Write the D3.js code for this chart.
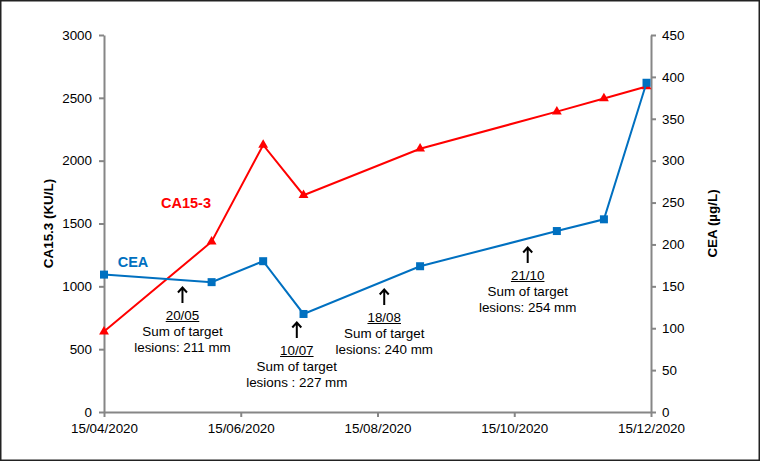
<!DOCTYPE html>
<html>
<head>
<meta charset="utf-8">
<script src="https://cdn.jsdelivr.net/npm/d3@7"></script>
<style>
  body { margin: 0; background: #fff; }
  svg { display: block; font-family: "Liberation Sans", Arial, sans-serif; }
</style>
</head>
<body>
<svg width="761" height="462"></svg>
<script>
// measurement dates (shared by both markers)
const dates = ["2020-04-15", "2020-06-02", "2020-06-25", "2020-07-13", "2020-09-03", "2020-11-03", "2020-11-24", "2020-12-13"];
const ca153 = [640, 1355, 2125, 1725, 2095, 2390, 2495, 2590];   // KU/L, left axis
const cea = [164, 155, 180, 117, 174, 216, 230, 393];             // µg/L, right axis

const leftTicks = [0, 500, 1000, 1500, 2000, 2500, 3000];
const rightTicks = [0, 50, 100, 150, 200, 250, 300, 350, 400, 450];
const xTicks = ["2020-04-15", "2020-06-15", "2020-08-15", "2020-10-15", "2020-12-15"];

// imaging notes
const noteDates = ["2020-05-20", "2020-07-10", "2020-08-18", "2020-10-21"];
const noteLabels = ["20/05", "10/07", "18/08", "21/10"];
const noteLines = ["lesions: 211 mm", "lesions : 227 mm", "lesions: 240 mm", "lesions: 254 mm"];

const width = 761, height = 462;
const margin = {top: 35, right: 110, bottom: 50, left: 104};
const noteTipY = [287, 322, 289, 247];

const parse = d3.utcParse("%Y-%m-%d");
const fmt = d3.utcFormat("%d/%m/%Y");
const axisColor = "#868686";
const red = "#ff0000", blue = "#0070c0";

const svg = d3.select("svg");

svg.append("rect")
  .attr("x", 0.75).attr("y", 0.75)
  .attr("width", width - 2.5).attr("height", height - 2.5)
  .attr("fill", "#fff").attr("stroke", "#222").attr("stroke-width", 1.5);

const x = d3.scaleUtc()
  .domain([parse(xTicks[0]), parse(xTicks[xTicks.length - 1])])
  .range([margin.left, width - margin.right]);
const y = d3.scaleLinear().domain([0, 3000]).range([height - margin.bottom, margin.top]);
const y2 = d3.scaleLinear().domain([0, 450]).range([height - margin.bottom, margin.top]);

function styleAxis(g) {
  g.select(".domain").attr("stroke", axisColor).attr("stroke-width", 2);
  g.selectAll(".tick line").attr("stroke", axisColor).attr("stroke-width", 2);
  g.selectAll(".tick text").attr("fill", "#000").attr("font-size", 13.4)
    .attr("font-family", "'Liberation Sans', Arial, sans-serif");
}

// x axis
svg.append("g")
  .attr("transform", `translate(0,${y(0)})`)
  .call(d3.axisBottom(x).tickValues(xTicks.map(parse)).tickFormat(fmt).tickSize(5).tickSizeOuter(0).tickPadding(6))
  .call(styleAxis);

// left axis
svg.append("g")
  .attr("transform", `translate(${margin.left},0)`)
  .call(d3.axisLeft(y).tickValues(leftTicks).tickFormat(d3.format("d")).tickSize(5).tickSizeOuter(0).tickPadding(7))
  .call(styleAxis);

// right axis
svg.append("g")
  .attr("transform", `translate(${width - margin.right},0)`)
  .call(d3.axisRight(y2).tickValues(rightTicks).tickFormat(d3.format("d")).tickSize(5).tickSizeOuter(0).tickPadding(6))
  .call(styleAxis);

// axis titles
svg.append("text")
  .attr("transform", `translate(48,${(y(0) + y(3000)) / 2}) rotate(-90)`)
  .attr("text-anchor", "middle").attr("dy", "0.35em")
  .attr("font-size", 13.4).attr("font-weight", "bold")
  .text("CA15.3 (KU/L)");

svg.append("text")
  .attr("transform", `translate(712,${(y(0) + y(3000)) / 2}) rotate(-90)`)
  .attr("text-anchor", "middle").attr("dy", "0.35em")
  .attr("font-size", 13.4).attr("font-weight", "bold")
  .text("CEA (µg/L)");

// series
const caPts = dates.map((d, i) => [x(parse(d)), y(ca153[i])]);
const ceaPts = dates.map((d, i) => [x(parse(d)), y2(cea[i])]);
const line = d3.line();

svg.append("path").attr("d", line(caPts))
  .attr("fill", "none").attr("stroke", red).attr("stroke-width", 2);
svg.selectAll(".tri").data(caPts).enter().append("path")
  .attr("class", "tri")
  .attr("transform", d => `translate(${d[0]},${d[1]})`)
  .attr("d", d3.symbol(d3.symbolTriangle, 42))
  .attr("fill", red);

svg.append("path").attr("d", line(ceaPts))
  .attr("fill", "none").attr("stroke", blue).attr("stroke-width", 2);
svg.selectAll(".sq").data(ceaPts).enter().append("rect")
  .attr("class", "sq")
  .attr("x", d => d[0] - 4).attr("y", d => d[1] - 4)
  .attr("width", 8).attr("height", 8)
  .attr("fill", blue);

// series labels
svg.append("text").attr("x", 186).attr("y", 208)
  .attr("text-anchor", "middle").attr("font-size", 14.5).attr("font-weight", "bold")
  .attr("fill", red).text("CA15-3");
svg.append("text").attr("x", 133).attr("y", 267)
  .attr("text-anchor", "middle").attr("font-size", 14.5).attr("font-weight", "bold")
  .attr("fill", blue).text("CEA");

// notes with arrows
noteDates.forEach((d, i) => {
  const nx = x(parse(d));
  const tip = noteTipY[i];
  const g = svg.append("g");
  g.append("path")
    .attr("d", `M${nx},${tip + 16}L${nx},${tip + 1}M${nx - 4.5},${tip + 5.5}L${nx},${tip + 0.5}L${nx + 4.5},${tip + 5.5}`)
    .attr("fill", "none").attr("stroke", "#000").attr("stroke-width", 2);
  const lbl = g.append("text").attr("x", nx).attr("y", tip + 28).attr("dy", "0.35em")
    .attr("text-anchor", "middle").attr("font-size", 13.4).text(noteLabels[i]);
  const w = lbl.node().getComputedTextLength();
  g.append("line")
    .attr("x1", nx - w / 2).attr("x2", nx + w / 2)
    .attr("y1", tip + 34.5).attr("y2", tip + 34.5)
    .attr("stroke", "#000").attr("stroke-width", 1);
  g.append("text").attr("x", nx).attr("y", tip + 44.5).attr("dy", "0.35em")
    .attr("text-anchor", "middle").attr("font-size", 13.4).text("Sum of target");
  g.append("text").attr("x", nx).attr("y", tip + 60).attr("dy", "0.35em")
    .attr("text-anchor", "middle").attr("font-size", 13.4).text(noteLines[i]);
});
</script>
</body>
</html>
